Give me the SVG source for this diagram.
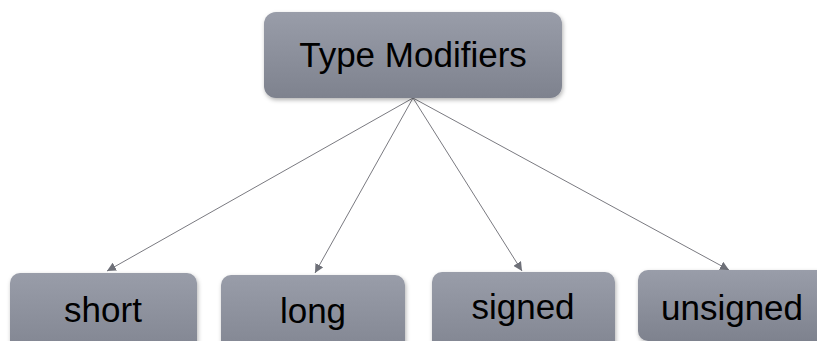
<svg xmlns="http://www.w3.org/2000/svg" width="817" height="341" viewBox="0 0 817 341">
<defs>
<linearGradient id="g" x1="0" y1="0" x2="0" y2="1">
<stop offset="0" stop-color="#999da9"/>
<stop offset="1" stop-color="#7e828e"/>
</linearGradient>
<filter id="sh" x="-10%" y="-10%" width="120%" height="130%">
<feDropShadow dx="1" dy="2" stdDeviation="2" flood-color="#000" flood-opacity="0.3"/>
</filter>
<marker id="ah" viewBox="0 0 10 10" refX="10" refY="5" markerWidth="9" markerHeight="9" markerUnits="userSpaceOnUse" orient="auto">
<path d="M0,0 L10,5 L0,10 Z" fill="#6e7078"/>
</marker>
<style>
.box{fill:url(#g);filter:url(#sh)}
.lbl{font-family:"Liberation Sans",Arial,sans-serif;font-size:35px;fill:#000;text-anchor:middle}
.edge{stroke:#7a7a80;stroke-width:1;fill:none;marker-end:url(#ah)}
</style>
</defs>
<rect width="817" height="341" fill="#fff"/>
<g id="connectors">
<line class="edge" x1="413" y1="98" x2="107" y2="271"/>
<line class="edge" x1="413" y1="98" x2="315" y2="273"/>
<line class="edge" x1="413" y1="98" x2="522" y2="271"/>
<line class="edge" x1="413" y1="98" x2="729" y2="270"/>
</g>
<g id="type-modifiers">
<rect class="box" x="264" y="12" width="298" height="86" rx="12"/>
<text class="lbl" x="413" y="67">Type Modifiers</text>
</g>
<g id="short">
<rect class="box" x="10" y="273" width="187" height="90" rx="10"/>
<text class="lbl" x="103" y="322">short</text>
</g>
<g id="long">
<rect class="box" x="221" y="275" width="184" height="90" rx="10"/>
<text class="lbl" x="313" y="323">long</text>
</g>
<g id="signed">
<rect class="box" x="432" y="272" width="183" height="90" rx="10"/>
<text class="lbl" x="523" y="319">signed</text>
</g>
<g id="unsigned">
<rect class="box" x="638" y="270" width="190" height="71" rx="10"/>
<text class="lbl" x="732" y="320">unsigned</text>
</g>
</svg>
